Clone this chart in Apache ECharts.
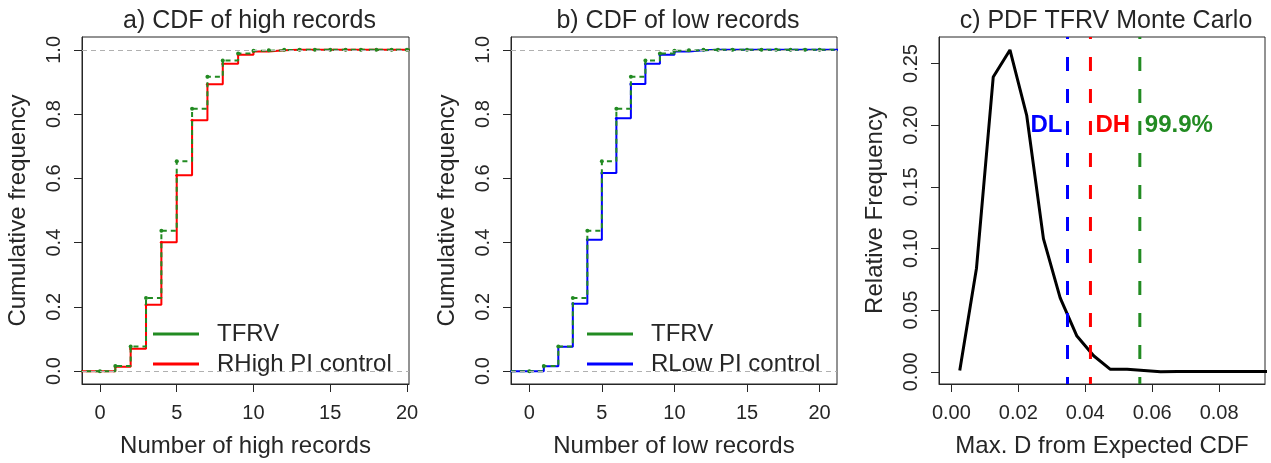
<!DOCTYPE html>
<html><head><meta charset="utf-8">
<script src="https://cdn.jsdelivr.net/npm/echarts@6/dist/echarts.min.js"></script>
<style>html,body{margin:0;padding:0;background:#fff}#c{width:1271px;height:463px}</style>
</head><body><div id="c"></div><script>
// ---- data ----
const records = [0,1,2,3,4,5,6,7,8,9,10,11,12,13,14,15,16,17,18,19,20];
const tfrvCdf  = [0,0.016,0.077,0.228,0.437,0.653,0.817,0.916,0.967,0.989,0.997,0.999,1,1,1,1,1,1,1,1,1];
const rHighCdf = [0,0.014,0.070,0.207,0.401,0.610,0.781,0.893,0.957,0.985,0.995,0.999,1,1,1,1,1,1,1,1,1];
const rLowCdf  = [0,0.015,0.076,0.210,0.409,0.617,0.787,0.894,0.957,0.985,0.995,0.999,1,1,1,1,1,1,1,1,1];
const pdfX = [0.0025,0.0075,0.0125,0.0175,0.0225,0.0275,0.0325,0.0375,0.0425,0.0475,0.0525,0.0575,0.0625,0.0675,0.0725,0.0775,0.0825,0.0875,0.0925,0.0975];
const pdfY = [0.001,0.084,0.239,0.261,0.208,0.108,0.060,0.029,0.013,0.002,0.002,0.001,0.0,0.0003,0.0003,0.0003,0.0002,0.0002,0.0002,0.0002];
const markerX = [0.0347, 0.04155, 0.0563];
const markerText = ['DL', 'DH', '99.9%'];
const cdfTicks = [0,5,10,15,20];
const cdfYTicks = [0,0.2,0.4,0.6,0.8,1.0];
const pdfXTicks = [0,0.02,0.04,0.06,0.08];
const pdfYTicks = [0,0.05,0.10,0.15,0.20,0.25];
const titles = ['a) CDF of high records','b) CDF of low records','c) PDF TFRV Monte Carlo'];

// ---- styling ----
const FONT = 'Liberation Sans';
const GREEN = '#228B22', RED = '#FF0000', BLUE = '#0000FF', INK = '#262626';
const chart = echarts.init(document.getElementById('c'), null, {renderer:'canvas'});

const gridsPos = [
  {left:82, top:37, width:327, height:354},
  {left:511, top:37, width:326, height:354},
  {left:939, top:37, width:326, height:354}
];
const xr = [[-1.17,20.13],[-1.26,21.2],[-0.0037,0.0937]];
const yr = [[-0.04,1.04],[-0.04,1.04],[-0.0099,0.2715]];
const xNames = ['Number of high records','Number of low records','Max. D from Expected CDF'];
const yNames = ['Cumulative frequency','Cumulative frequency','Relative Frequency'];
const xTickSets = [cdfTicks, cdfTicks, pdfXTicks];
const yTickSets = [cdfYTicks, cdfYTicks, pdfYTicks];
const xFmt = [v=>String(Math.round(v)), v=>String(Math.round(v)), v=>v.toFixed(2)];
const yFmt = [v=>v.toFixed(1), v=>v.toFixed(1), v=>v.toFixed(2)];

const grid = gridsPos.map(g => Object.assign({show:true, borderColor:INK, borderWidth:1, backgroundColor:'transparent'}, g));
const xAxis = [0,1,2].map(i => ({
  type:'value', gridIndex:i, min:xr[i][0], max:xr[i][1], position:'bottom',
  splitLine:{show:false}, axisLine:{show:true, onZero:false, lineStyle:{color:INK, width:1}},
  axisTick:{show:true, length:8, lineStyle:{color:INK}, customValues:xTickSets[i]},
  axisLabel:{customValues:xTickSets[i], formatter:xFmt[i], fontFamily:FONT, fontSize:20, color:INK, margin:19},
  name:xNames[i], nameLocation:'middle', nameGap:50,
  nameTextStyle:{fontFamily:FONT, fontSize:24, color:INK}
}));
const yAxis = [0,1,2].map(i => ({
  type:'value', gridIndex:i, min:yr[i][0], max:yr[i][1], position:'left',
  splitLine:{show:false}, axisLine:{show:true, onZero:false, lineStyle:{color:INK, width:1}},
  axisTick:{show:true, length:8, lineStyle:{color:INK}, customValues:yTickSets[i]},
  axisLabel:{customValues:yTickSets[i], formatter:yFmt[i], rotate:90, fontFamily:FONT, fontSize:20, color:INK, margin:18},
  name:yNames[i], nameLocation:'middle', nameGap:52, nameRotate:90,
  nameTextStyle:{fontFamily:FONT, fontSize:24, color:INK}
}));

function cdfData(vals){
  const d = records.map((r,k)=>[r, vals[k]]);
  d.unshift({value:[-5, 0], symbol:'none'});
  d.push({value:[30, 1], symbol:'none'});
  return d;
}
function stepSeries(name, vals, idx, color, dashed, z){
  return {
    type:'line', name, xAxisIndex:idx, yAxisIndex:idx, step:'end', data:cdfData(vals),
    showSymbol:true, symbol:'circle', symbolSize:dashed?4:3, z,
    itemStyle:{color}, lineStyle:{color, width:2, type:dashed?[5,4]:'solid'},
    emphasis:{disabled:true}, animation:false, clip:true
  };
}
const refLines = idx => ({
  type:'line', xAxisIndex:idx, yAxisIndex:idx, data:[], silent:true,
  markLine:{silent:true, symbol:'none', label:{show:false}, animation:false,
    lineStyle:{color:'#b0b0b0', type:[5,4], width:1},
    data:[{yAxis:0},{yAxis:1}]}
});

const series = [
  refLines(0), refLines(1),
  stepSeries('RHigh PI control', rHighCdf, 0, RED, false, 2),
  stepSeries('TFRV', tfrvCdf, 0, GREEN, true, 3),
  stepSeries('RLow PI control', rLowCdf, 1, BLUE, false, 2),
  stepSeries('TFRV', tfrvCdf, 1, GREEN, true, 3),
  {type:'line', name:'PDF', xAxisIndex:2, yAxisIndex:2, data:pdfX.map((x,k)=>[x,pdfY[k]]),
   showSymbol:false, lineStyle:{color:'#000', width:3}, itemStyle:{color:'#000'}, animation:false, z:2}
];
const vColors = [BLUE, RED, GREEN];
markerX.forEach((x,k)=>{
  series.push({type:'line', xAxisIndex:2, yAxisIndex:2, data:[[x, yr[2][1]],[x, yr[2][0]]],
    showSymbol:false, silent:true, animation:false, z:3,
    lineStyle:{color:vColors[k], width:3, type:[14,18], dashOffset:12}});
});
series.push({type:'scatter', xAxisIndex:2, yAxisIndex:2, symbolSize:0, silent:true, animation:false, z:5,
  itemStyle:{opacity:1},
  data:markerX.map((x,k)=>({value:[x,0.2], name:markerText[k],
    label:{show:true, formatter:markerText[k], position:k===0?'left':'right', distance:5,
      color:vColors[k], opacity:1, fontFamily:FONT, fontWeight:'bold', fontSize:24}}))});

const legendCommon = {orient:'vertical', icon:'rect', itemWidth:46, itemHeight:3, itemGap:6,
  textStyle:{fontFamily:FONT, fontSize:24, color:INK, lineHeight:24, padding:[0,0,0,13]}, selectedMode:false};

chart.setOption({
  backgroundColor:'#fff',
  animation:false,
  title: titles.map((t,i)=>({text:t, left:gridsPos[i].left+gridsPos[i].width/2 - 1, top:4, textAlign:'center',
    textStyle:{fontFamily:FONT, fontSize:25, fontWeight:'normal', color:INK}})),
  grid, xAxis, yAxis,
  legend:[
    Object.assign({left:148, top:317, data:['TFRV','RHigh PI control']}, legendCommon),
    Object.assign({left:582, top:317, data:['TFRV','RLow PI control']}, legendCommon)
  ],
  series
});
</script></body></html>
